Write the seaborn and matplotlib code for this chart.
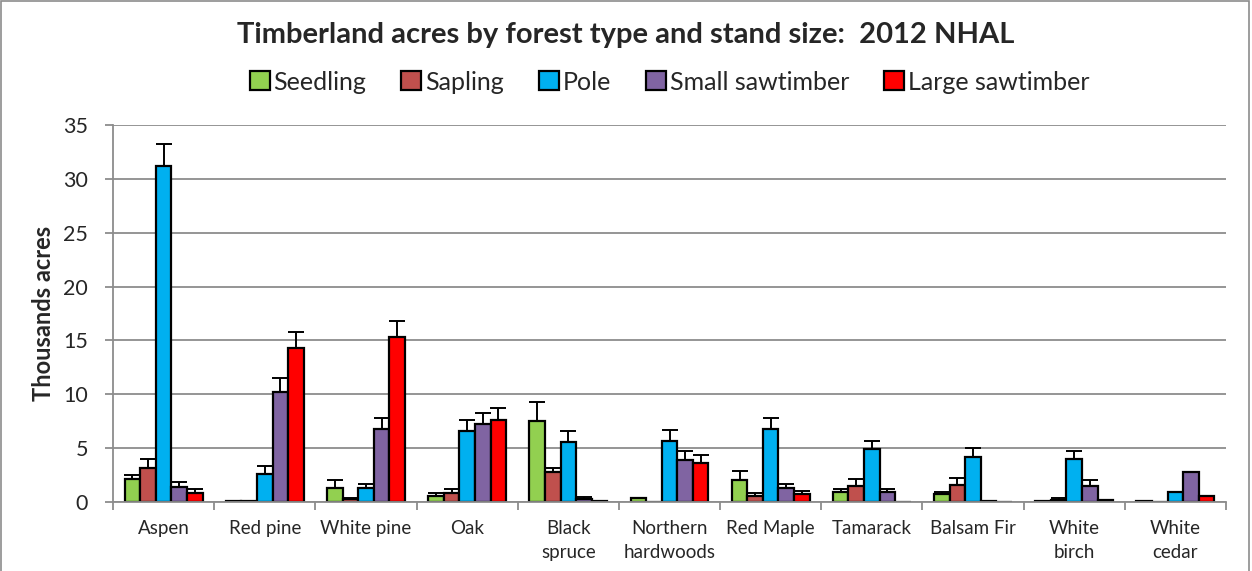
import numpy as np
import pandas as pd
import matplotlib.pyplot as plt
import seaborn as sns
from matplotlib.patches import Rectangle

sns.set_theme(style="white")
plt.rcParams['font.family'] = ['Lato', 'DejaVu Sans']

forest_types = ["Aspen", "Red pine", "White pine", "Oak", "Black\nspruce",
                "Northern\nhardwoods", "Red Maple", "Tamarack", "Balsam Fir",
                "White\nbirch", "White\ncedar"]
sizes = ["Seedling", "Sapling", "Pole", "Small sawtimber", "Large sawtimber"]
colors = ["#92D050", "#C0504D", "#00B0F0", "#8064A2", "#FF0000"]

seedling = [2.1, 0.05, 1.3, 0.6, 7.5, 0.4, 2.0, 0.9, 0.7, 0.05, 0.1]
sapling = [3.2, 0.1, 0.3, 0.8, 2.8, 0.0, 0.6, 1.5, 1.6, 0.2, 0.0]
pole = [31.2, 2.6, 1.3, 6.6, 5.6, 5.7, 6.8, 4.9, 4.2, 4.0, 0.9]
small_saw = [1.4, 10.2, 6.8, 7.2, 0.3, 3.9, 1.3, 0.9, 0.05, 1.5, 2.8]
large_saw = [0.8, 14.3, 15.3, 7.6, 0.05, 3.6, 0.7, 0.0, 0.0, 0.15, 0.6]

# upper error bar lengths (0 = no bar drawn)
seedling_err = [0.4, 0, 0.7, 0.2, 1.8, 0, 0.9, 0.3, 0.2, 0, 0]
sapling_err = [0.8, 0, 0.1, 0.4, 0.4, 0, 0.2, 0.6, 0.6, 0.2, 0]
pole_err = [2.0, 0.7, 0.4, 1.0, 1.0, 1.0, 1.0, 0.8, 0.8, 0.7, 0]
small_err = [0.5, 1.3, 1.0, 1.1, 0.15, 0.8, 0.4, 0.3, 0, 0.5, 0]
large_err = [0.4, 1.5, 1.5, 1.1, 0, 0.8, 0.3, 0, 0, 0.05, 0]

values = [seedling, sapling, pole, small_saw, large_saw]
errors = [seedling_err, sapling_err, pole_err, small_err, large_err]

rows = []
for s, vals in zip(sizes, values):
    for f, v in zip(forest_types, vals):
        rows.append({"Forest type": f, "Stand size": s, "Acres": v})
df = pd.DataFrame(rows)

fig = plt.figure(figsize=(12.52, 5.71), dpi=100)
ax = fig.add_axes([113 / 1252, 69 / 571, 1113 / 1252, 377 / 571])

sns.barplot(data=df, x="Forest type", y="Acres", hue="Stand size",
            hue_order=sizes, palette=colors, order=forest_types,
            width=0.77, gap=0, errorbar=None, edgecolor="black",
            linewidth=1.6, saturation=1, ax=ax)

# plus-only error bars on top of each bar
for cont, errs in zip(ax.containers, errors):
    for bar, e in zip(cont, errs):
        if e <= 0:
            continue
        xc = bar.get_x() + bar.get_width() / 2
        top = bar.get_height()
        ax.errorbar(xc, top, yerr=[[0], [e]], fmt="none", ecolor="black",
                    elinewidth=1.4, capsize=5.5, capthick=1.4, zorder=1)

ax.set_ylim(0, 35)
ax.set_xlim(-0.5, len(forest_types) - 0.5)
ax.set_yticks(np.arange(0, 36, 5))
ax.yaxis.grid(True, color="#8c8c8c", linewidth=1.3)
ax.set_axisbelow(True)
ax.tick_params(axis="y", labelsize=15.5, length=6, width=1.3, color="#8c8c8c",
               left=True, pad=12)
ax.tick_params(axis="x", which="major", length=0, labelsize=13.5, pad=13)
ax.set_xticks(np.arange(-0.5, len(forest_types)), minor=True)
ax.tick_params(axis="x", which="minor", length=6, color="#8c8c8c", width=1.3, bottom=True)
for lbl in ax.get_xticklabels():
    lbl.set_verticalalignment("top")
    lbl.set_linespacing(1.5)

for side in ["top", "right"]:
    ax.spines[side].set_visible(False)
for side in ["left", "bottom"]:
    ax.spines[side].set_color("#8c8c8c")
    ax.spines[side].set_linewidth(1.3)

ax.set_xlabel("")
ax.set_ylabel("Thousands acres", fontsize=17, fontweight="bold", labelpad=6)

leg = ax.legend(loc="center", bbox_to_anchor=(0.5, (571 - 82 - 69) / 377), ncol=5,
                frameon=False, fontsize=18, handlelength=0.8, handleheight=0.8,
                handletextpad=0.15, columnspacing=1.4, borderaxespad=0)
for h in leg.legend_handles:
    h.set_linewidth(1.6)

fig.text(0.5, 1 - 35 / 571, "Timberland acres by forest type and stand size:  2012 NHAL",
         ha="center", va="center", fontsize=21, fontweight="bold")

fig.patches.append(Rectangle((0.001, -0.01), 0.997, 1.008, transform=fig.transFigure,
                             fill=False, edgecolor="#8c8c8c", linewidth=1.2))

fig.savefig("out.png", dpi=100)
